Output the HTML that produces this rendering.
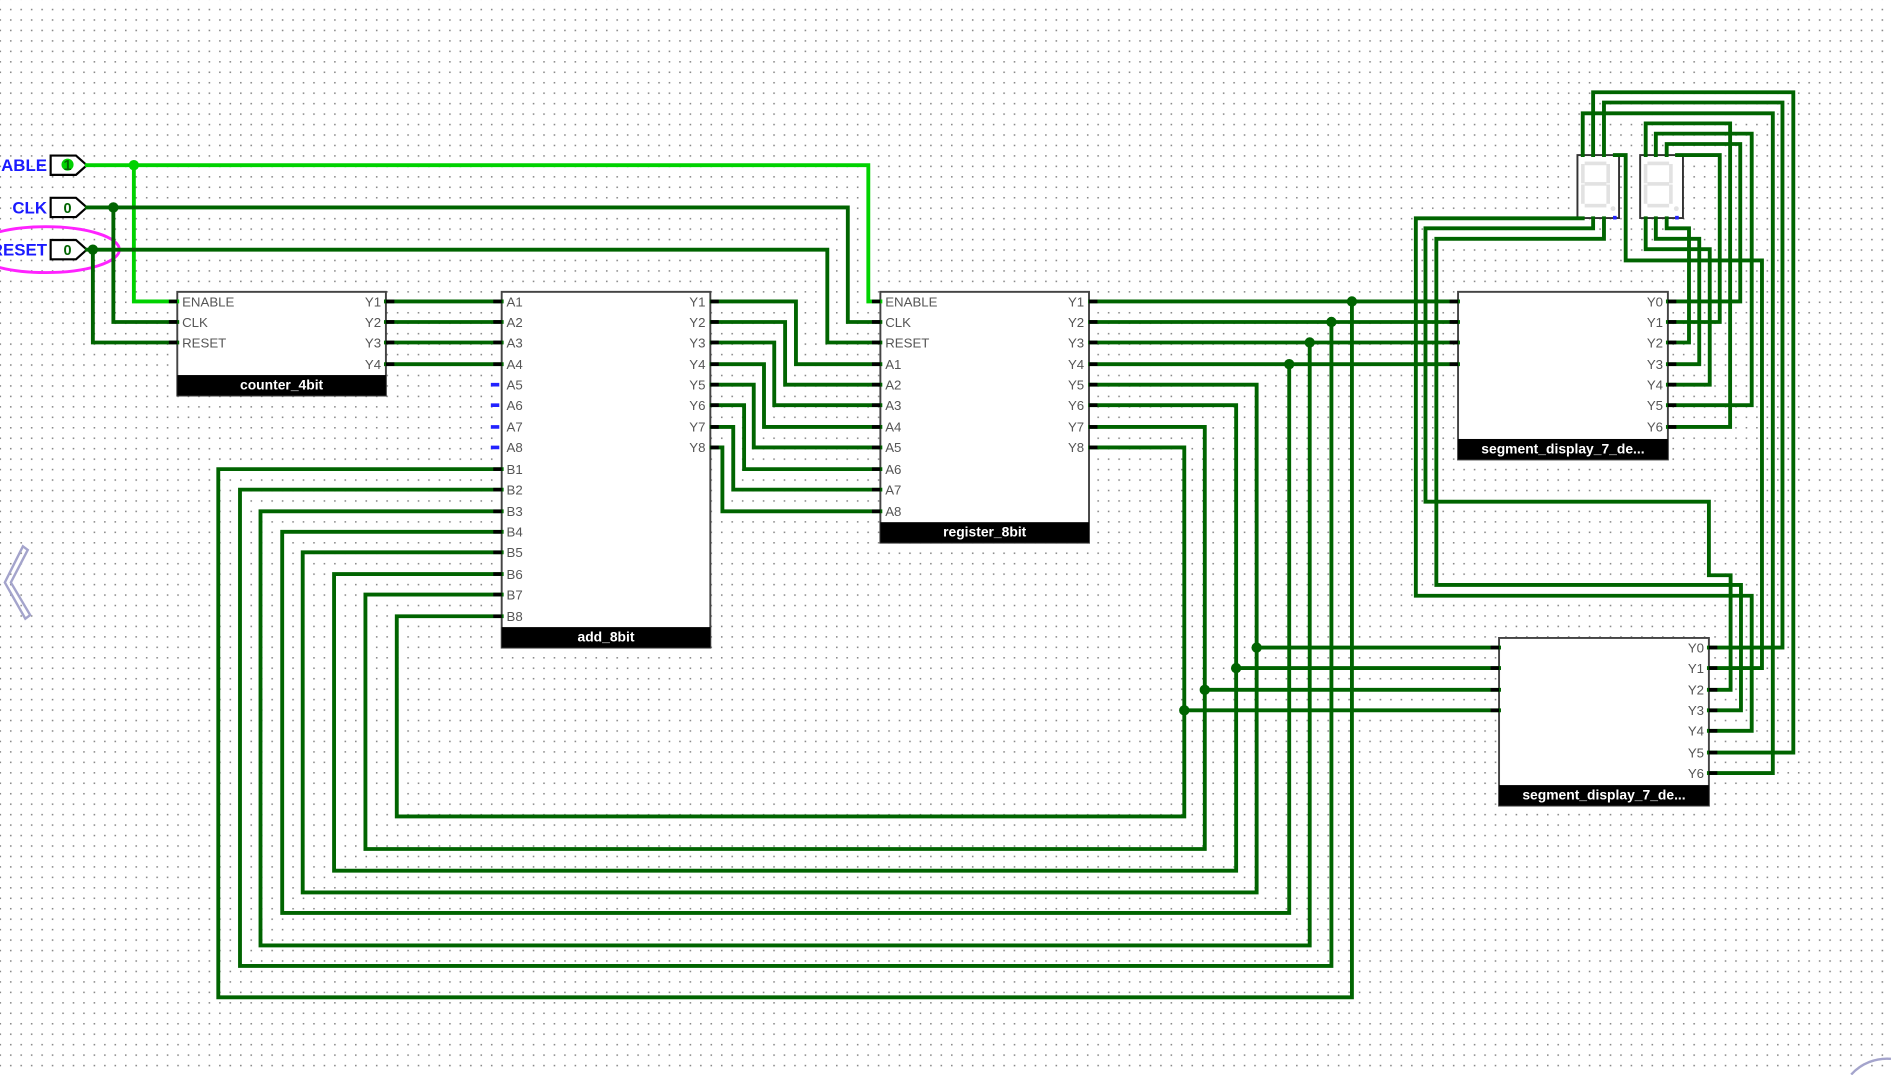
<!DOCTYPE html>
<html><head><meta charset="utf-8"><style>
html,body{margin:0;padding:0;background:#fff;overflow:hidden}
svg{display:block}
.w{fill:none;stroke:#006400;stroke-width:3.2;stroke-linejoin:miter;stroke-linecap:square}
.g{fill:none;stroke:#00d200;stroke-width:3.2;stroke-linecap:square}
.box{fill:#fff;stroke:#444;stroke-width:1.6}
.bar{fill:#000}
.tt{font-family:"Liberation Sans",sans-serif;font-weight:bold;font-size:11.5px;fill:#fff;text-anchor:middle}
.pl{font-family:"Liberation Sans",sans-serif;font-size:11px;fill:#555}
.pr{font-family:"Liberation Sans",sans-serif;font-size:11px;fill:#555;text-anchor:end}
.st{stroke:#000;stroke-width:3}
.lbl{font-family:"Liberation Sans",sans-serif;font-weight:bold;font-size:14px;fill:#1a1aff;text-anchor:end}
.seg{fill:#e2e2e2}
</style></head><body>
<svg width="1891" height="1075" viewBox="0 0 1568 891.4" preserveAspectRatio="none" xmlns="http://www.w3.org/2000/svg">
<defs><pattern id="gr" x="-0.4" y="-1.4" width="8.67" height="8.67" patternUnits="userSpaceOnUse"><rect x="0" y="0" width="1.3" height="1.3" fill="#8a8a8a"/></pattern></defs>
<rect width="1568" height="892" fill="#fff"/>
<rect width="1568" height="892" fill="url(#gr)"/>

<polygon points="19,453 23,456 9,483 25,510 21,513 4,483" fill="none" stroke="#a4a4cc" stroke-width="2"/>
<path d="M1535 891 A40 40 0 0 1 1568 878" fill="none" stroke="#a4a4cc" stroke-width="2"/>

<rect class="box" x="147" y="242" width="173" height="86"/><rect class="bar" x="147" y="311" width="173" height="17"/><text class="tt" x="233.5" y="323">counter_4bit</text>
<rect class="box" x="416" y="242" width="173" height="295"/><rect class="bar" x="416" y="520" width="173" height="17"/><text class="tt" x="502.5" y="532">add_8bit</text>
<rect class="box" x="730" y="242" width="173" height="208"/><rect class="bar" x="730" y="433" width="173" height="17"/><text class="tt" x="816.5" y="445">register_8bit</text>
<rect class="box" x="1209" y="242" width="174" height="139"/><rect class="bar" x="1209" y="364" width="174" height="17"/><text class="tt" x="1296" y="376">segment_display_7_de...</text>
<rect class="box" x="1243" y="529" width="174" height="139"/><rect class="bar" x="1243" y="651" width="174" height="17"/><text class="tt" x="1330" y="663">segment_display_7_de...</text>

<rect x="1308" y="128.6" width="34.5" height="52.2" fill="#fff" stroke="#333" stroke-width="1.6"/>
<g class="seg"><rect x="1314" y="134" width="18" height="3"/><rect x="1314" y="151" width="18" height="3"/><rect x="1314" y="169" width="18" height="3"/><rect x="1311" y="136" width="3" height="16"/><rect x="1332" y="136" width="3" height="16"/><rect x="1311" y="153" width="3" height="16"/><rect x="1332" y="153" width="3" height="16"/><circle cx="1337.5" cy="173" r="2"/></g>
<rect x="1360" y="128.6" width="35.5" height="52.2" fill="#fff" stroke="#333" stroke-width="1.6"/>
<g class="seg"><rect x="1366" y="134" width="18" height="3"/><rect x="1366" y="151" width="18" height="3"/><rect x="1366" y="169" width="18" height="3"/><rect x="1363" y="136" width="3" height="16"/><rect x="1384" y="136" width="3" height="16"/><rect x="1363" y="153" width="3" height="16"/><rect x="1384" y="153" width="3" height="16"/><circle cx="1390" cy="173" r="2"/></g>
<rect x="1337.5" y="179" width="3" height="3" fill="#2222ff"/><rect x="1389" y="179" width="3" height="3" fill="#2222ff"/>

<g stroke="#000" stroke-width="1.8" fill="#fff">
<polygon points="42,129 63,129 72,137 63,145 42,145"/>
<polygon points="42,164 63,164 72,172 63,180 42,180"/>
<polygon points="42,199 63,199 72,207 63,215 42,215"/>
</g>
<circle cx="56" cy="136.5" r="5" fill="#00d200"/>
<text x="56" y="141" font-family="Liberation Sans,sans-serif" font-size="12" font-weight="bold" fill="#006400" text-anchor="middle">1</text>
<text x="56" y="176.5" font-family="Liberation Sans,sans-serif" font-size="12" font-weight="bold" fill="#006400" text-anchor="middle">0</text>
<text x="56" y="211.5" font-family="Liberation Sans,sans-serif" font-size="12" font-weight="bold" fill="#006400" text-anchor="middle">0</text>
<text class="lbl" x="39" y="142">ENABLE</text>
<text class="lbl" x="39" y="177">CLK</text>
<text class="lbl" x="39" y="212">RESET</text>
<ellipse cx="38" cy="207" rx="61" ry="19" fill="none" stroke="#ff22ff" stroke-width="2.4"/>

<path class="g" d="M72 137 H720 V250 H730 M111 137 V250 H147"/>
<path class="w" d="M72 172 H703 V267 H730 M94 172 V267 H147"/>
<path class="w" d="M72 207 H686 V284 H730 M77 207 V284 H147"/>
<path class="w" d="M320 250 H416 M320 267 H416 M320 284 H416 M320 302 H416"/>
<path class="w" d="M590 250 H660 V302 H730 M590 267 H651 V319 H730 M590 284 H642 V336 H730 M590 302 H633.5 V354 H730 M590 319 H625 V371 H730 M590 336 H617 V389 H730 M590 354 H608 V406 H730 M590 371 H599 V424 H730"/>
<path class="w" d="M904 250 H1209 M904 267 H1209 M904 284 H1209 M904 302 H1209"/>
<path class="w" d="M416 389 H181 V827 H1121 V250 M416 406 H199 V801 H1104 V267 M416 424 H216 V784 H1086 V284 M416 441 H234 V757 H1069 V302"/>
<path class="w" d="M904 319 H1042 V740 H251 V458 H416 M1042 537 H1243 M904 336 H1025 V722 H277 V476 H416 M1025 554 H1243 M904 354 H999 V704 H303 V493 H416 M999 572 H1243 M904 371 H982 V677 H329 V511 H416 M982 589 H1243"/>
<path class="w" d="M1383 250 H1443 V119.4 H1382 V128.6 M1383 267 H1426 V128.6 H1390.6 M1383 284 H1400.5 V189.3 H1382 V181 M1383 302 H1409 V198 H1373 V181 M1383 319 H1417.7 V206.6 H1364.6 V181 M1383 336 H1452.5 V110.8 H1373 V128.6 M1383 354 H1434.6 V102.3 H1364.6 V128.6"/>
<path class="w" d="M1417 537 H1478 V85 H1330 V128.6 M1417 554 H1461 V216 H1348 V128.6 H1339 M1417 572 H1435 V477 H1417 V416 H1182 V189.3 H1321 V181 M1417 589 H1443.6 V485 H1191 V198 H1330 V181 M1417 606 H1452.5 V494 H1174 V181 H1312.4 M1417 624 H1487 V76.5 H1321 V128.6 M1417 641 H1470 V94 H1312.4 V128.6"/>

<circle cx="111" cy="137" r="4.3" fill="#00d200"/>
<g fill="#006400">
<circle cx="94" cy="172" r="4.3"/><circle cx="77" cy="207" r="4.3"/>
<circle cx="1121" cy="250" r="4.3"/><circle cx="1104" cy="267" r="4.3"/><circle cx="1086" cy="284" r="4.3"/><circle cx="1069" cy="302" r="4.3"/>
<circle cx="1042" cy="537" r="4.3"/><circle cx="1025" cy="554" r="4.3"/><circle cx="999" cy="572" r="4.3"/><circle cx="982" cy="589" r="4.3"/>
</g>

<g class="st">
<path d="M140 250H147M140 267H147M140 284H147M320 250H327M320 267H327M320 284H327M320 302H327"/>
<path d="M409 250H416M409 267H416M409 284H416M409 302H416M409 389H416M409 406H416M409 424H416M409 441H416M409 458H416M409 476H416M409 493H416M409 511H416"/>
<path d="M589 250H596M589 267H596M589 284H596M589 302H596M589 319H596M589 336H596M589 354H596M589 371H596"/>
<path d="M723 250H730M723 267H730M723 284H730M723 302H730M723 319H730M723 336H730M723 354H730M723 371H730M723 389H730M723 406H730M723 424H730"/>
<path d="M903 250H910M903 267H910M903 284H910M903 302H910M903 319H910M903 336H910M903 354H910M903 371H910"/>
<path d="M1202 250H1209M1202 267H1209M1202 284H1209M1202 302H1209M1383 250H1390M1383 267H1390M1383 284H1390M1383 302H1390M1383 319H1390M1383 336H1390M1383 354H1390"/>
<path d="M1236 537H1243M1236 554H1243M1236 572H1243M1236 589H1243M1417 537H1424M1417 554H1424M1417 572H1424M1417 589H1424M1417 606H1424M1417 624H1424M1417 641H1424"/>
</g>
<path d="M407 319H414M407 336H414M407 354H414M407 371H414" stroke="#2222ff" stroke-width="3"/>

<g class="pl">
<text x="151" y="254">ENABLE</text><text x="151" y="271">CLK</text><text x="151" y="288">RESET</text>
<text x="420" y="254">A1</text><text x="420" y="271">A2</text><text x="420" y="288">A3</text><text x="420" y="306">A4</text><text x="420" y="323">A5</text><text x="420" y="340">A6</text><text x="420" y="358">A7</text><text x="420" y="375">A8</text>
<text x="420" y="393">B1</text><text x="420" y="410">B2</text><text x="420" y="428">B3</text><text x="420" y="445">B4</text><text x="420" y="462">B5</text><text x="420" y="480">B6</text><text x="420" y="497">B7</text><text x="420" y="515">B8</text>
<text x="734" y="254">ENABLE</text><text x="734" y="271">CLK</text><text x="734" y="288">RESET</text>
<text x="734" y="306">A1</text><text x="734" y="323">A2</text><text x="734" y="340">A3</text><text x="734" y="358">A4</text><text x="734" y="375">A5</text><text x="734" y="393">A6</text><text x="734" y="410">A7</text><text x="734" y="428">A8</text>
</g>
<g class="pr">
<text x="316" y="254">Y1</text><text x="316" y="271">Y2</text><text x="316" y="288">Y3</text><text x="316" y="306">Y4</text>
<text x="585" y="254">Y1</text><text x="585" y="271">Y2</text><text x="585" y="288">Y3</text><text x="585" y="306">Y4</text><text x="585" y="323">Y5</text><text x="585" y="340">Y6</text><text x="585" y="358">Y7</text><text x="585" y="375">Y8</text>
<text x="899" y="254">Y1</text><text x="899" y="271">Y2</text><text x="899" y="288">Y3</text><text x="899" y="306">Y4</text><text x="899" y="323">Y5</text><text x="899" y="340">Y6</text><text x="899" y="358">Y7</text><text x="899" y="375">Y8</text>
<text x="1379" y="254">Y0</text><text x="1379" y="271">Y1</text><text x="1379" y="288">Y2</text><text x="1379" y="306">Y3</text><text x="1379" y="323">Y4</text><text x="1379" y="340">Y5</text><text x="1379" y="358">Y6</text>
<text x="1413" y="541">Y0</text><text x="1413" y="558">Y1</text><text x="1413" y="576">Y2</text><text x="1413" y="593">Y3</text><text x="1413" y="610">Y4</text><text x="1413" y="628">Y5</text><text x="1413" y="645">Y6</text>
</g>
</svg>
</body></html>
